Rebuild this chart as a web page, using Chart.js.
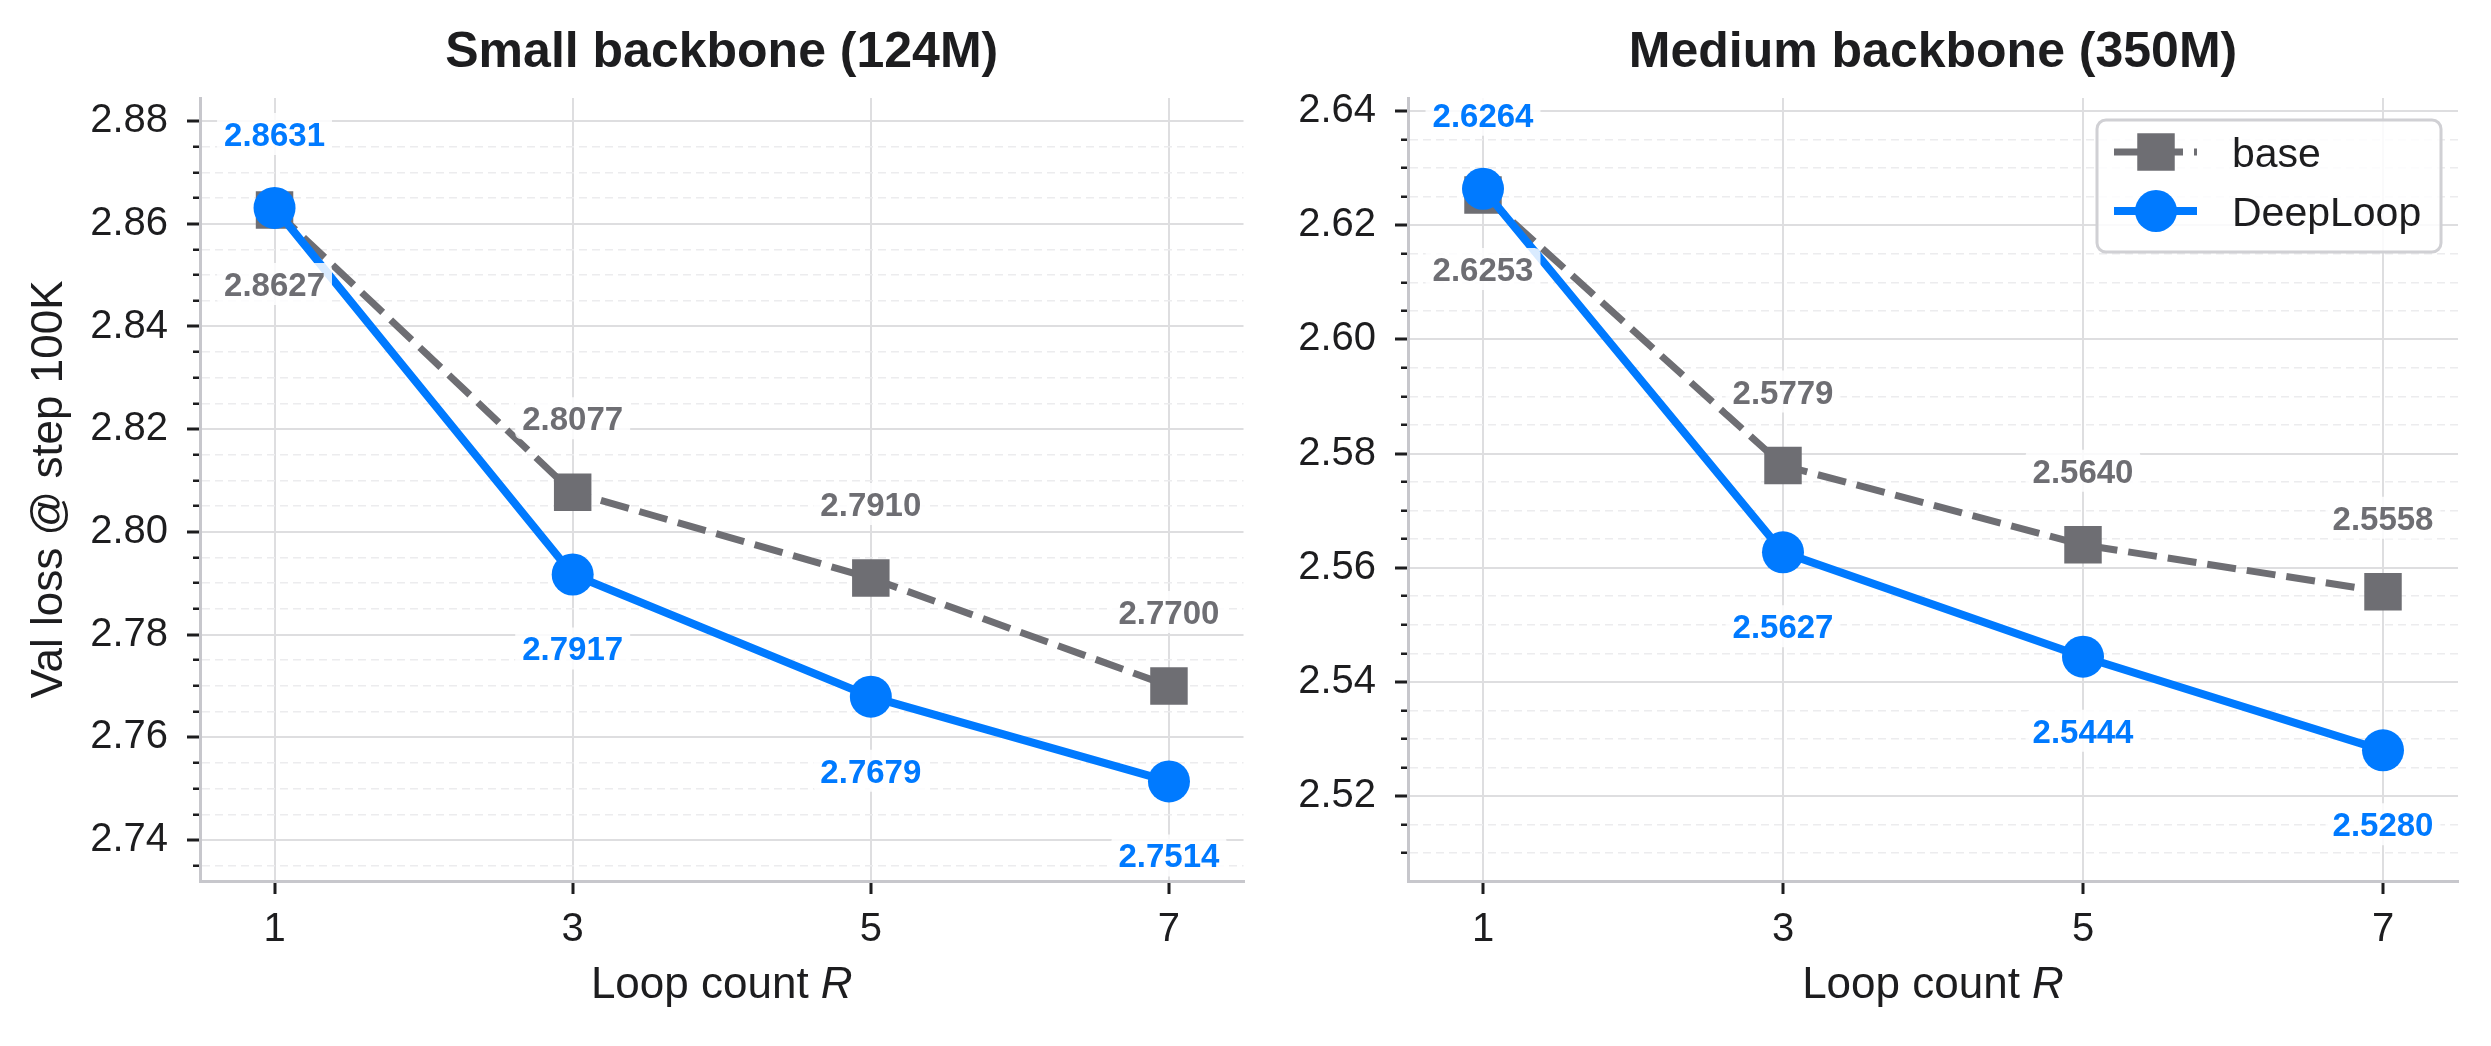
<!DOCTYPE html>
<html>
<head>
<meta charset="utf-8">
<script src="https://cdn.jsdelivr.net/npm/chart.js@4.4.1/dist/chart.umd.min.js"></script>
<style>
  html, body { margin: 0; padding: 0; background: #fff; }
  #wrap { position: relative; width: 2491px; height: 1046px; }
  canvas { position: absolute; top: 0; }
</style>
</head>
<body>
<div id="wrap">
  <canvas id="small" width="1270" height="1046" style="left:0;width:1270px;height:1046px"></canvas>
  <canvas id="medium" width="1221" height="1046" style="left:1270px;width:1221px;height:1046px"></canvas>
</div>
<script>
// data
const loops = [1, 3, 5, 7];
const smallBase = [2.8627, 2.8077, 2.7910, 2.7700];
const smallDeep = [2.8631, 2.7917, 2.7679, 2.7514];
const mediumBase = [2.6253, 2.5779, 2.5640, 2.5558];
const mediumDeep = [2.6264, 2.5627, 2.5444, 2.5280];
const seriesNames = ['base', 'DeepLoop'];

const FONT = '"Liberation Sans", Arial, Helvetica, sans-serif';
const INK = '#1d1d1f';
const GRAY = '#6e6e73';
const BLUE = '#007aff';
const DASH = [29, 11];

const isMajor = (v) => Math.abs(v * 50 - Math.round(v * 50)) < 1e-6;
const pts = (ys) => ys.map((y, i) => ({ x: loops[i], y }));

function roundRect(ctx, x, y, w, h, r) {
  ctx.beginPath();
  ctx.moveTo(x + r, y);
  ctx.arcTo(x + w, y, x + w, y + h, r);
  ctx.arcTo(x + w, y + h, x, y + h, r);
  ctx.arcTo(x, y + h, x, y, r);
  ctx.arcTo(x, y, x + w, y, r);
  ctx.closePath();
}

const panelText = {
  id: 'panelText',
  afterDraw(chart, args, opts) {
    const ctx = chart.ctx, a = chart.chartArea;
    const cx = (a.left + a.right) / 2;
    ctx.save();
    // panel title
    ctx.font = 'bold 50px ' + FONT;
    ctx.fillStyle = INK;
    ctx.textAlign = 'center';
    ctx.textBaseline = 'alphabetic';
    ctx.fillText(opts.title, cx, 67);
    ctx.restore();

    // x axis title with italic R
    ctx.save();
    ctx.fillStyle = INK;
    ctx.textBaseline = 'alphabetic';
    ctx.font = '44px ' + FONT;
    const w1 = ctx.measureText('Loop count ').width;
    ctx.font = 'italic 44px ' + FONT;
    const w2 = ctx.measureText('R').width;
    const x0 = cx - (w1 + w2) / 2;
    ctx.textAlign = 'left';
    ctx.font = '44px ' + FONT;
    ctx.fillText('Loop count ', x0, 998);
    ctx.font = 'italic 44px ' + FONT;
    ctx.fillText('R', x0 + w1, 998);
    ctx.restore();

    if (opts.legend) drawLegend(chart);
  },
  afterDatasetsDraw(chart) {
    const ctx = chart.ctx;
    const sets = chart.data.datasets;
    ctx.save();
    ctx.font = 'bold 33px ' + FONT;
    ctx.textAlign = 'center';
    ctx.textBaseline = 'alphabetic';
    sets.forEach((ds, i) => {
      const other = sets[1 - i];
      chart.getDatasetMeta(i).data.forEach((pt, j) => {
        const v = ds.data[j].y;
        const up = v > other.data[j].y;
        const y = pt.y + (up ? -74 : 74);
        const txt = v.toFixed(4);
        const w = ctx.measureText(txt).width + 14;
        roundRect(ctx, pt.x - w / 2, y - 21, w, 42, 6);
        ctx.fillStyle = 'rgba(255,255,255,0.85)';
        ctx.fill();
        ctx.fillStyle = ds.borderColor;
        ctx.fillText(txt, pt.x, y + 12);
      });
    });
    ctx.restore();
  },
};

function drawLegend(chart) {
  const ctx = chart.ctx, a = chart.chartArea;
  const x0 = a.right - 361, y0 = a.top + 22;
  ctx.save();
  roundRect(ctx, x0, y0, 344, 132, 9);
  ctx.fillStyle = 'rgba(255,255,255,0.85)';
  ctx.fill();
  ctx.lineWidth = 3;
  ctx.strokeStyle = '#d0d0d4';
  ctx.stroke();
  const rows = [y0 + 32, y0 + 91];
  chart.data.datasets.forEach((ds, i) => {
    const y = rows[i];
    ctx.strokeStyle = ds.borderColor;
    ctx.lineWidth = ds.borderWidth;
    ctx.setLineDash(ds.borderDash || []);
    ctx.beginPath();
    ctx.moveTo(x0 + 17, y);
    ctx.lineTo(x0 + 100, y);
    ctx.stroke();
    ctx.setLineDash([]);
    ctx.fillStyle = ds.pointBackgroundColor;
    if (ds.pointStyle === 'rect') {
      const s = ds.pointRadius * Math.SQRT1_2;
      ctx.fillRect(x0 + 59 - s, y - s, 2 * s, 2 * s);
    } else {
      ctx.beginPath();
      ctx.arc(x0 + 59, y, ds.pointRadius, 0, Math.PI * 2);
      ctx.fill();
    }
    ctx.fillStyle = INK;
    ctx.font = '41px ' + FONT;
    ctx.textAlign = 'left';
    ctx.textBaseline = 'alphabetic';
    ctx.fillText(ds.label, x0 + 135, y + 15);
  });
  ctx.restore();
}

function makePanel(id, p) {
  return new Chart(document.getElementById(id), {
    type: 'line',
    data: {
      datasets: [
        { label: seriesNames[0], data: pts(p.base), borderColor: GRAY, borderWidth: 7, borderDash: DASH,
          pointStyle: 'rect', pointRadius: 26.5, pointBackgroundColor: GRAY, pointBorderWidth: 0,
          pointHoverRadius: 26.5, tension: 0, order: 1 },
        { label: seriesNames[1], data: pts(p.deep), borderColor: BLUE, borderWidth: 8,
          pointStyle: 'circle', pointRadius: 21, pointBackgroundColor: BLUE, pointBorderWidth: 0,
          pointHoverRadius: 21, tension: 0, order: 0 },
      ],
    },
    options: {
      responsive: false, animation: false, devicePixelRatio: 1,
      events: [],
      layout: { padding: { top: 98, right: p.padRight, left: 0, bottom: 0 } },
      plugins: {
        legend: { display: false }, tooltip: { enabled: false },
        panelText: { title: p.title, legend: p.legend },
      },
      scales: {
        x: {
          type: 'linear', min: 0.5, max: 7.5,
          afterBuildTicks: (ax) => { ax.ticks = loops.map((v) => ({ value: v })); },
          afterFit: (ax) => { ax.height = 165; },
          ticks: { color: INK, font: { family: FONT, size: 40 }, padding: 12, autoSkip: false, maxRotation: 0,
            callback: (v) => String(v) },
          grid: { color: '#dedee0', lineWidth: 2, tickColor: INK, tickLength: 13, tickWidth: 3 },
          border: { color: '#c7c7cc', width: 3 },
        },
        y: {
          type: 'linear', min: p.yMin, max: p.yMax,
          afterBuildTicks: (ax) => {
            const out = [];
            for (let k = Math.ceil(ax.min * 200 - 1e-6); k <= Math.floor(ax.max * 200 + 1e-6); k++) out.push({ value: k / 200 });
            ax.ticks = out;
          },
          afterFit: (ax) => { ax.width = p.axisWidth; },
          ticks: { color: INK, font: { family: FONT, size: 40 }, padding: 19, autoSkip: false,
            callback: (v) => (isMajor(v) ? v.toFixed(2) : '') },
          grid: {
            color: (c) => (c.tick && isMajor(c.tick.value) ? '#dedee0' : '#ececee'),
            lineWidth: (c) => (c.tick && isMajor(c.tick.value) ? 2 : 1.5),
            tickColor: INK, tickLength: 13,
            tickWidth: (c) => (c.tick && isMajor(c.tick.value) ? 3 : 2.5),
            tickBorderDash: (c) => (c.tick && isMajor(c.tick.value) ? [] : [6, 6]),
            tickBorderDashOffset: (c) => (c.tick && isMajor(c.tick.value) ? 0 : 6),
          },
          border: { color: '#c7c7cc', width: 3,
            dash: (c) => (c.tick && !isMajor(c.tick.value) ? [8, 5] : []) },
          title: p.yTitle
            ? { display: true, text: p.yTitle, color: INK, font: { family: FONT, size: 44 }, padding: { top: 23, bottom: 0 } }
            : { display: false },
        },
      },
    },
    plugins: [panelText],
  });
}

makePanel('small', { title: 'Small backbone (124M)', base: smallBase, deep: smallDeep,
  yMin: 2.7320, yMax: 2.8845, yTitle: 'Val loss @ step 100K', axisWidth: 200, padRight: 17, legend: false });
makePanel('medium', { title: 'Medium backbone (350M)', base: mediumBase, deep: mediumDeep,
  yMin: 2.5051, yMax: 2.6423, yTitle: '', axisWidth: 138, padRight: 33, legend: true });
</script>
</body>
</html>
